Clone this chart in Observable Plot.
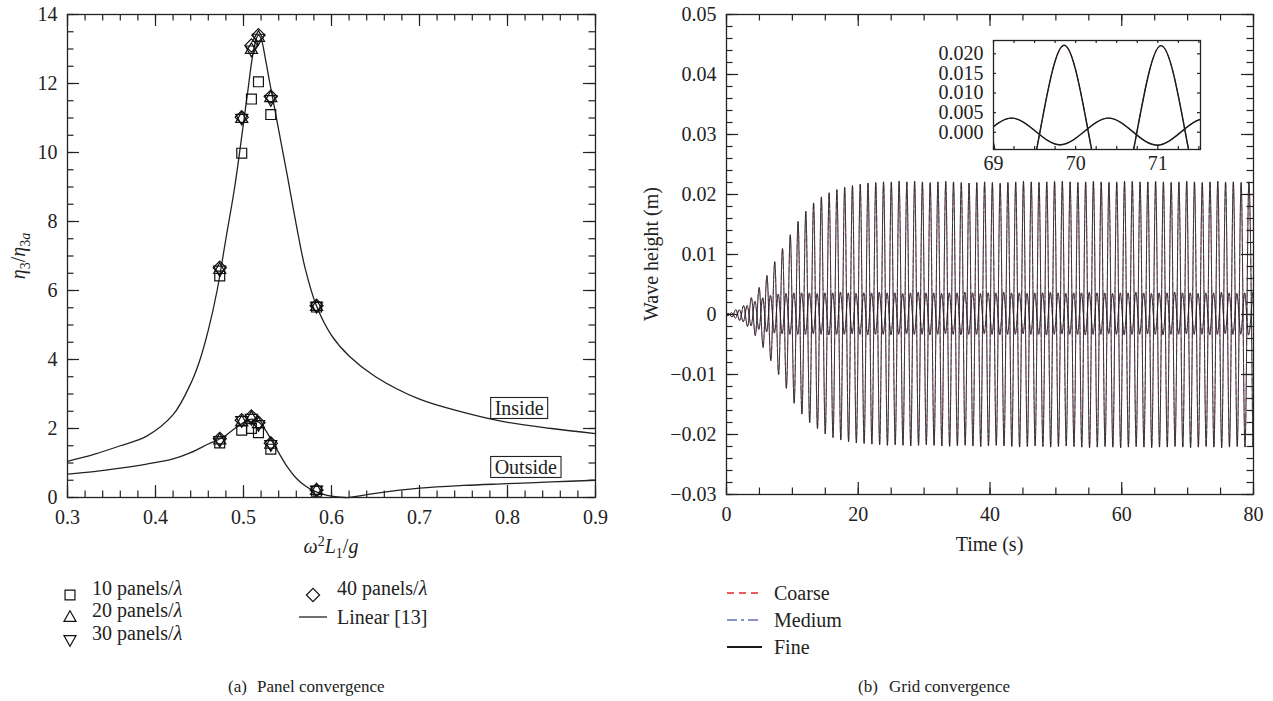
<!DOCTYPE html>
<html lang="en">
<head>
<meta charset="utf-8">
<title>Panel and grid convergence</title>
<script src="https://cdn.jsdelivr.net/npm/d3@7"></script>
<script src="https://cdn.jsdelivr.net/npm/@observablehq/plot@0.6"></script>
<style>
  html, body { margin: 0; background: #fff; }
  #fig { position: relative; width: 1273px; height: 701px; overflow: hidden; background: #fff; }
  #fig > svg { position: absolute; }
</style>
</head>
<body>
<div id="fig"></div>
<script>
// ---------- (a) Panel convergence: response ratio vs. nondimensional frequency ----------
const omega = [0.473, 0.498, 0.509, 0.517, 0.531, 0.583];
const inside10 = [6.42, 9.98, 11.55, 12.05, 11.10, 5.52];
const inside20 = [6.62, 11.00, 13.00, 13.35, 11.60, 5.55];
const inside30 = [6.58, 10.98, 12.96, 13.30, 11.52, 5.53];
const inside40 = [6.66, 11.02, 13.10, 13.40, 11.62, 5.56];
const outside10 = [1.58, 1.95, 2.00, 1.88, 1.40, 0.18];
const outside20 = [1.68, 2.20, 2.32, 2.15, 1.56, 0.22];
const outside30 = [1.64, 2.22, 2.28, 2.10, 1.52, 0.20];
const outside40 = [1.70, 2.24, 2.35, 2.17, 1.57, 0.22];

// linear theory [13]
const insideX = [0.30,0.33,0.36,0.39,0.42,0.44,0.45,0.46,0.47,0.48,0.49,0.50,0.505,0.51,0.514,0.517,0.52,0.525,0.53,0.54,0.55,0.56,0.57,0.583,0.60,0.62,0.65,0.70,0.75,0.80,0.85,0.90];
const insideY = [1.05,1.25,1.50,1.78,2.40,3.30,3.95,4.85,6.00,7.50,9.00,10.85,11.80,12.75,13.25,13.40,13.30,12.70,12.00,10.65,9.30,7.90,6.65,5.55,4.70,4.10,3.50,2.85,2.47,2.18,2.00,1.85];
const outsideX = [0.30,0.33,0.36,0.39,0.42,0.44,0.46,0.47,0.48,0.49,0.50,0.505,0.51,0.515,0.52,0.525,0.53,0.54,0.55,0.56,0.57,0.58,0.59,0.60,0.61,0.62,0.63,0.65,0.70,0.75,0.80,0.85,0.90];
const outsideY = [0.68,0.75,0.85,0.97,1.12,1.30,1.55,1.66,1.80,2.00,2.17,2.24,2.27,2.24,2.12,1.95,1.74,1.30,0.88,0.56,0.34,0.19,0.10,0.04,0.01,0.00,0.04,0.12,0.27,0.35,0.40,0.45,0.50];

const xTicksL = [0.3, 0.4, 0.5, 0.6, 0.7, 0.8, 0.9];
const yTicksL = [0, 2, 4, 6, 8, 10, 12, 14];
const panelNotes = [{label: "Inside", x: 0.786, y: 2.58}, {label: "Outside", x: 0.786, y: 0.87}];

// ---------- (b) Grid convergence: wave elevation time history ----------
const period = 1.18; // s, spacing of successive crests
// probe A: large oscillation (crest / trough heights per cycle, m)
const largeCrest = [
  0.0002, 0.0008, 0.0015, 0.0028, 0.0045, 0.0065, 0.0088, 0.0110, 0.0133, 0.0155,
  0.0172, 0.0186, 0.0196, 0.0203, 0.0208, 0.0212, 0.0215, 0.0217, 0.0219, 0.0220,
  0.0221, 0.0221, 0.0222, 0.0221, 0.0222, 0.0221, 0.0220, 0.0221, 0.0222, 0.0221,
  0.0220, 0.0219, 0.0220, 0.0221, 0.0220, 0.0219, 0.0220, 0.0221, 0.0222, 0.0221,
  0.0220, 0.0221, 0.0222, 0.0222, 0.0221, 0.0220, 0.0221, 0.0222, 0.0221, 0.0220,
  0.0221, 0.0222, 0.0222, 0.0221, 0.0221, 0.0222, 0.0221, 0.0220, 0.0221, 0.0222,
  0.0221, 0.0220, 0.0221, 0.0222, 0.0221, 0.0221, 0.0220, 0.0221];
const largeTrough = [
  -0.0004, -0.0010, -0.0020, -0.0035, -0.0055, -0.0077, -0.0100, -0.0123, -0.0148, -0.0166,
  -0.0180, -0.0190, -0.0199, -0.0205, -0.0209, -0.0212, -0.0214, -0.0215, -0.0216, -0.0217,
  -0.0218, -0.0217, -0.0218, -0.0219, -0.0218, -0.0217, -0.0218, -0.0219, -0.0220, -0.0219,
  -0.0218, -0.0219, -0.0220, -0.0219, -0.0218, -0.0219, -0.0220, -0.0221, -0.0220, -0.0219,
  -0.0220, -0.0221, -0.0220, -0.0219, -0.0220, -0.0221, -0.0222, -0.0221, -0.0220, -0.0221,
  -0.0222, -0.0221, -0.0220, -0.0221, -0.0222, -0.0221, -0.0221, -0.0220, -0.0221, -0.0222,
  -0.0221, -0.0220, -0.0221, -0.0222, -0.0221, -0.0220, -0.0221, -0.0220];
// probe B: small oscillation
const smallCrest = [
  0.0003, 0.0008, 0.0015, 0.0022, 0.0028, 0.0032, 0.0034, 0.0035, 0.0036, 0.0036,
  0.0036, 0.0035, 0.0036, 0.0036, 0.0037, 0.0036, 0.0035, 0.0036, 0.0036, 0.0037,
  0.0036, 0.0036, 0.0035, 0.0036, 0.0037, 0.0036, 0.0036, 0.0035, 0.0036, 0.0036,
  0.0037, 0.0036, 0.0035, 0.0036, 0.0036, 0.0037, 0.0036, 0.0036, 0.0035, 0.0036,
  0.0036, 0.0037, 0.0036, 0.0035, 0.0036, 0.0036, 0.0037, 0.0036, 0.0036, 0.0035,
  0.0036, 0.0036, 0.0037, 0.0036, 0.0035, 0.0036, 0.0036, 0.0037, 0.0036, 0.0036,
  0.0035, 0.0036, 0.0036, 0.0037, 0.0036, 0.0035, 0.0036, 0.0036];
const smallTrough = [
  -0.0002, -0.0006, -0.0012, -0.0019, -0.0025, -0.0029, -0.0031, -0.0032, -0.0033, -0.0033,
  -0.0033, -0.0032, -0.0033, -0.0034, -0.0033, -0.0033, -0.0032, -0.0033, -0.0034, -0.0033,
  -0.0033, -0.0034, -0.0033, -0.0032, -0.0033, -0.0033, -0.0034, -0.0033, -0.0032, -0.0033,
  -0.0034, -0.0033, -0.0033, -0.0032, -0.0033, -0.0034, -0.0033, -0.0033, -0.0032, -0.0033,
  -0.0033, -0.0034, -0.0033, -0.0032, -0.0033, -0.0033, -0.0034, -0.0033, -0.0033, -0.0032,
  -0.0033, -0.0034, -0.0033, -0.0033, -0.0032, -0.0033, -0.0034, -0.0033, -0.0033, -0.0032,
  -0.0033, -0.0033, -0.0034, -0.0033, -0.0032, -0.0033, -0.0033, -0.0034];
const probeA = {crestStart: 0.24, troughStart: 0.83, crests: largeCrest, troughs: largeTrough};
const probeB = {crestStart: 0.78, troughStart: 0.19, crests: smallCrest, troughs: smallTrough};

const xTicksR = [0, 20, 40, 60, 80];
const yTicksR = [-0.03, -0.02, -0.01, 0, 0.01, 0.02, 0.03, 0.04, 0.05];
const xTicksInset = [69, 70, 71];
const yTicksInset = [0, 0.005, 0.010, 0.015, 0.020];

const grids = [
  {name: "Coarse", color: "#e3262d", dash: "5,3", width: 0.5, legendWidth: 1.4},
  {name: "Medium", color: "#666fb6", dash: "7,3,2,3", width: 0.5, legendWidth: 1.4},
  {name: "Fine",   color: "#1a1a1a", dash: null, width: 0.8, legendWidth: 2.2}
];

// ---------- shared styling ----------
const FONT = "'Liberation Serif', 'Times New Roman', 'DejaVu Serif', serif";
const FS = 20;
const INK = "#222";
const fig = document.getElementById("fig");

// outline marker shapes, scaled from the dot radius
const R0 = size => Math.sqrt(size / Math.PI);
const symbols = {
  square: {draw(c, size) { const s = 0.9 * R0(size); c.moveTo(-s, -s); c.lineTo(s, -s); c.lineTo(s, s); c.lineTo(-s, s); c.closePath(); }},
  up:     {draw(c, size) { const r = R0(size); c.moveTo(0, -1.15 * r); c.lineTo(1.1 * r, 0.8 * r); c.lineTo(-1.1 * r, 0.8 * r); c.closePath(); }},
  down:   {draw(c, size) { const r = R0(size); c.moveTo(0, 1.15 * r); c.lineTo(1.1 * r, -0.8 * r); c.lineTo(-1.1 * r, -0.8 * r); c.closePath(); }},
  diamond:{draw(c, size) { const r = 1.2 * R0(size); c.moveTo(0, -r); c.lineTo(r, 0); c.lineTo(0, r); c.lineTo(-r, 0); c.closePath(); }}
};
const panelSeries = [
  {label: "10 panels/", symbol: symbols.square,  inside: inside10, outside: outside10},
  {label: "20 panels/", symbol: symbols.up,      inside: inside20, outside: outside20},
  {label: "30 panels/", symbol: symbols.down,    inside: inside30, outside: outside30},
  {label: "40 panels/", symbol: symbols.diamond, inside: inside40, outside: outside40}
];

// tick marks pointing inward on all four sides of a frame
function boxTicks(xs, ys, len, pw, ph) {
  const o = {stroke: INK, strokeWidth: 1.2};
  return [
    Plot.ruleX(xs, {...o, insetTop: ph - len}),
    Plot.ruleX(xs, {...o, insetBottom: ph - len}),
    Plot.ruleY(ys, {...o, insetRight: pw - len}),
    Plot.ruleY(ys, {...o, insetLeft: pw - len})
  ];
}
const minus = d => (d < 0 ? "\u2212" : "");
const plotStyle = {fontFamily: FONT, fontSize: FS + "px", color: INK, background: "transparent", overflow: "visible"};

// ---------- left panel ----------
const L = {w: 620, h: 545, t: 14, r: 25, b: 48, l: 67};
L.pw = L.w - L.l - L.r; L.ph = L.h - L.t - L.b;
const insideLine = insideX.map((x, i) => ({x, y: insideY[i]}));
const outsideLine = outsideX.map((x, i) => ({x, y: outsideY[i]}));

const left = Plot.plot({
  width: L.w, height: L.h,
  marginTop: L.t, marginRight: L.r, marginBottom: L.b, marginLeft: L.l,
  x: {domain: [0.3, 0.9]},
  y: {domain: [0, 14]},
  style: plotStyle,
  marks: [
    Plot.line(insideLine, {x: "x", y: "y", curve: "catmull-rom", stroke: INK, strokeWidth: 1.3}),
    Plot.line(outsideLine, {x: "x", y: "y", curve: "catmull-rom", stroke: INK, strokeWidth: 1.3}),
    ...panelSeries.map(s => Plot.dot(
      omega.flatMap((x, i) => [{x, y: s.inside[i]}, {x, y: s.outside[i]}]),
      {x: "x", y: "y", r: 5.5, symbol: s.symbol, fill: "none", stroke: "#111", strokeWidth: 1.2})),
    ...boxTicks(d3.range(15, 46).map(i => i / 50), d3.range(0, 29).map(i => i / 2), 6.5, L.pw, L.ph),
    ...boxTicks(xTicksL, yTicksL, 12, L.pw, L.ph),
    Plot.frame({stroke: INK, strokeWidth: 1.3}),
    Plot.axisX({ticks: xTicksL, tickSize: 0, tickPadding: 12, tickFormat: d => d.toFixed(1), label: null}),
    Plot.axisY({ticks: yTicksL, tickSize: 0, tickPadding: 10, tickFormat: d => String(d), label: null})
  ]
});
left.style.left = "0px"; left.style.top = "0px";
fig.append(left);

// ---------- right panel ----------
function extrema({crestStart, troughStart, crests, troughs}) {
  const pts = [{t: 0, v: 0}];
  crests.forEach((v, k) => pts.push({t: crestStart + k * period, v}));
  troughs.forEach((v, k) => pts.push({t: troughStart + k * period, v}));
  return pts.sort((a, b) => a.t - b.t);
}
const waves = [extrema(probeA), extrema(probeB)];
const waveMarks = w => grids.flatMap(g => waves.map(data => Plot.line(data, {
  x: "t", y: "v", curve: "monotone-x", clip: true,
  stroke: g.color, strokeWidth: g.width * w, strokeDasharray: g.dash
})));

const R = {w: 637, h: 544, t: 14, r: 20, b: 50, l: 90};
R.pw = R.w - R.l - R.r; R.ph = R.h - R.t - R.b;
const right = Plot.plot({
  width: R.w, height: R.h,
  marginTop: R.t, marginRight: R.r, marginBottom: R.b, marginLeft: R.l,
  x: {domain: [0, 80]},
  y: {domain: [-0.03, 0.05]},
  style: plotStyle,
  marks: [
    ...waveMarks(1),
    ...boxTicks(d3.range(0, 17).map(i => i * 5), d3.range(-15, 26).map(i => i * 0.002), 6.5, R.pw, R.ph),
    ...boxTicks(xTicksR, yTicksR, 12, R.pw, R.ph),
    Plot.frame({stroke: INK, strokeWidth: 1.3}),
    Plot.axisX({ticks: xTicksR, tickSize: 0, tickPadding: 12, tickFormat: d => String(d), label: null}),
    Plot.axisY({ticks: yTicksR, tickSize: 0, tickPadding: 10,
      tickFormat: d => Math.abs(d) < 1e-9 ? "0" : minus(d) + Math.abs(d).toFixed(2), label: null})
  ]
});
right.style.left = "636px"; right.style.top = "0px";
fig.append(right);

// ---------- inset: close-up of two cycles ----------
const I = {w: 286, h: 153, t: 10, r: 12, b: 34, l: 67};
I.pw = I.w - I.l - I.r; I.ph = I.h - I.t - I.b;
const inset = Plot.plot({
  width: I.w, height: I.h,
  marginTop: I.t, marginRight: I.r, marginBottom: I.b, marginLeft: I.l,
  x: {domain: [69, 71.52]},
  y: {domain: [-0.0044, 0.0234]},
  style: plotStyle,
  marks: [
    Plot.frame({fill: "#fff", stroke: "none"}),
    ...waveMarks(1.8),
    ...boxTicks(d3.range(0, 11).map(i => 69 + i * 0.25), d3.range(0, 5).map(i => i * 0.005), 3, I.pw, I.ph),
    Plot.frame({stroke: INK, strokeWidth: 1.3}),
    Plot.axisX({ticks: xTicksInset, tickSize: 0, tickPadding: 6, tickFormat: d => String(d), label: null}),
    Plot.axisY({ticks: yTicksInset, tickSize: 0, tickPadding: 10, tickFormat: d => d.toFixed(3), label: null})
  ]
});
inset.style.left = "926px"; inset.style.top = "30px";
fig.append(inset);

// ---------- labels, legends and captions ----------
const ov = d3.create("svg").attr("width", 1273).attr("height", 701)
  .style("left", "0px").style("top", "0px")
  .attr("font-family", FONT).attr("fill", INK);
fig.append(ov.node());

function rich(sel, parts, size) {
  let shift = 0;
  parts.forEach(p => {
    const target = p.sub ? 5 : p.sup ? -7 : 0;
    const ts = sel.append("tspan").text(p.t).attr("dy", target - shift);
    shift = target;
    if (p.sub || p.sup) ts.attr("font-size", size * 0.7);
    if (p.i) ts.attr("font-style", "italic");
  });
}

// axis titles
rich(ov.append("text").attr("transform", "translate(25,256) rotate(-90)").attr("text-anchor", "middle").attr("font-size", FS),
  [{t: "\u03b7", i: true}, {t: "3", sub: true}, {t: "/"}, {t: "\u03b7", i: true}, {t: "3", sub: true}, {t: "a", sub: true, i: true}], FS);
rich(ov.append("text").attr("x", 331).attr("y", 553).attr("text-anchor", "middle").attr("font-size", FS),
  [{t: "\u03c9", i: true}, {t: "2", sup: true}, {t: "L", i: true}, {t: "1", sub: true}, {t: "/"}, {t: "g", i: true}], FS);
ov.append("text").attr("transform", "translate(658,254) rotate(-90)").attr("text-anchor", "middle")
  .attr("font-size", FS).text("Wave height (m)");
ov.append("text").attr("x", 989.5).attr("y", 551).attr("text-anchor", "middle")
  .attr("font-size", FS).text("Time (s)");

// boxed curve labels, placed with the panel's own scales
const sx = left.scale("x"), sy = left.scale("y");
panelNotes.forEach(n => {
  const g = ov.append("g");
  const r = g.append("rect");
  const t = g.append("text").attr("x", sx.apply(n.x)).attr("y", sy.apply(n.y))
    .attr("dy", "0.35em").attr("font-size", FS).text(n.label);
  const b = t.node().getBBox();
  r.attr("x", b.x - 4).attr("y", b.y + 0.5).attr("width", b.width + 8).attr("height", b.height - 1)
    .attr("fill", "#fff").attr("stroke", INK).attr("stroke-width", 1.1);
});

// legend (a)
const rowsA = [595, 617, 640];
const legendA = [
  {...panelSeries[0], cx: 70, tx: 92, y: rowsA[0]},
  {...panelSeries[1], cx: 70, tx: 92, y: rowsA[1]},
  {...panelSeries[2], cx: 70, tx: 92, y: rowsA[2]},
  {...panelSeries[3], cx: 313, tx: 337, y: rowsA[0]}
];
legendA.forEach(d => {
  ov.append("path").attr("transform", `translate(${d.cx},${d.y})`)
    .attr("d", d3.symbol(d.symbol, Math.PI * 5.5 * 5.5)())
    .attr("fill", "none").attr("stroke", "#111").attr("stroke-width", 1.2);
  rich(ov.append("text").attr("x", d.tx).attr("y", d.y).attr("dy", "0.35em").attr("font-size", FS),
    [{t: d.label}, {t: "\u03bb", i: true}], FS);
});
ov.append("line").attr("x1", 299).attr("x2", 327).attr("y1", rowsA[1]).attr("y2", rowsA[1])
  .attr("stroke", INK).attr("stroke-width", 1.3);
ov.append("text").attr("x", 337).attr("y", rowsA[1]).attr("dy", "0.35em").attr("font-size", FS).text("Linear [13]");

// legend (b)
const rowsB = [593, 620, 647];
grids.forEach((g, i) => {
  ov.append("line").attr("x1", 727).attr("x2", 762).attr("y1", rowsB[i]).attr("y2", rowsB[i])
    .attr("stroke", g.color).attr("stroke-width", g.legendWidth)
    .attr("stroke-dasharray", g.dash ? (i === 0 ? "7,5" : "10,4,3,4") : null);
  ov.append("text").attr("x", 774).attr("y", rowsB[i]).attr("dy", "0.35em").attr("font-size", FS).text(g.name);
});

// captions
[{x: 228, x2: 257, a: "(a)", b: "Panel convergence"}, {x: 858, x2: 889, a: "(b)", b: "Grid convergence"}].forEach(c => {
  ov.append("text").attr("x", c.x).attr("y", 692).attr("font-size", 17).text(c.a);
  ov.append("text").attr("x", c.x2).attr("y", 692).attr("font-size", 17).text(c.b);
});
</script>
</body>
</html>
